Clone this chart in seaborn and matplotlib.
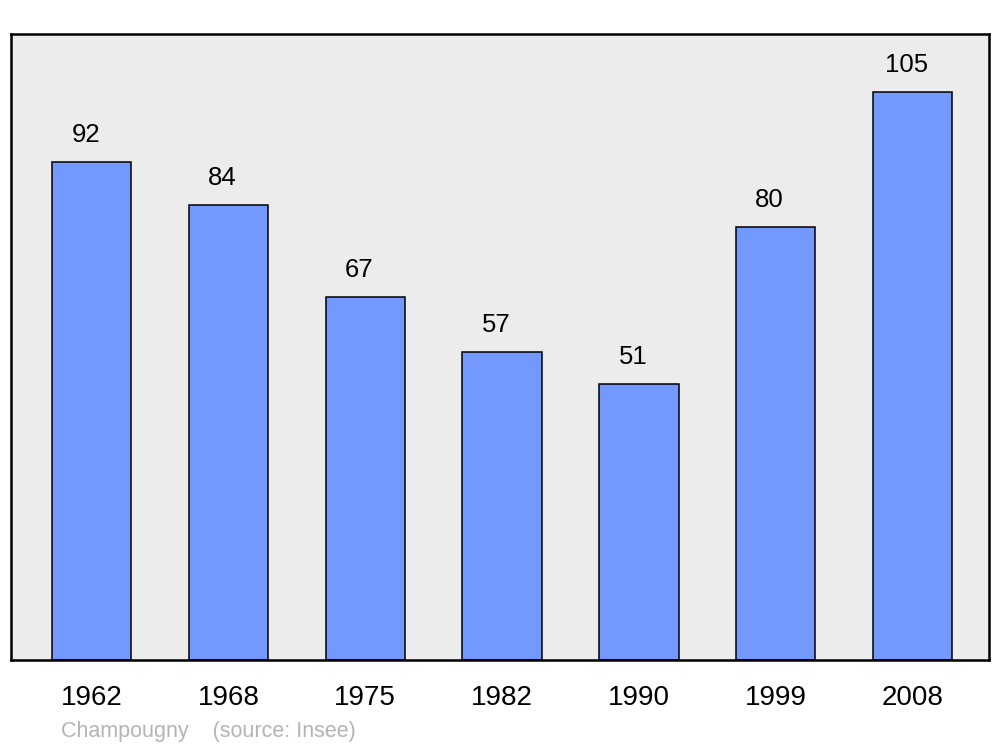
import matplotlib
matplotlib.use('Agg')
import matplotlib.pyplot as plt
import seaborn as sns
import pandas as pd

years = ['1962', '1968', '1975', '1982', '1990', '1999', '2008']
population = [92, 84, 67, 57, 51, 80, 105]
footer = 'Champougny    (source: Insee)'

sns.set_style('white')
plt.rcParams['font.family'] = ['Liberation Sans', 'DejaVu Sans']
plt.rcParams['text.color'] = 'black'
plt.rcParams['xtick.color'] = 'black'

df = pd.DataFrame({'annee': years, 'pop': population})

fig = plt.figure(figsize=(10, 7.47), dpi=100)
ax = fig.add_axes([0.011, 0.1165, 0.978, 0.838])
ax.set_facecolor('#ececec')

sns.barplot(data=df, x='annee', y='pop', color='#7399ff', saturation=1,
            width=0.58, edgecolor='black', linewidth=1.1, ax=ax)

ax.set_xlim(-0.59, 6.56)
ax.set_ylim(0, 115.7)
ax.set_xlabel('')
ax.set_ylabel('')
ax.set_yticks([])
ax.tick_params(axis='x', length=0, labelsize=20, pad=18, labelcolor='black')

for spine in ax.spines.values():
    spine.set_visible(True)
    spine.set_color('black')
    spine.set_linewidth(1.8)

# valeurs au-dessus des barres
for i, v in enumerate(population):
    ax.annotate(str(v), (i, v), xytext=(-6, 27), textcoords='offset pixels',
                ha='center', va='center', fontsize=18.5, color='black')

fig.text(0.061, 1 - 731 / 747, footer, color='#b4b4b4', fontsize=15.5,
         ha='left', va='center')

fig.savefig('out.png', dpi=100)
